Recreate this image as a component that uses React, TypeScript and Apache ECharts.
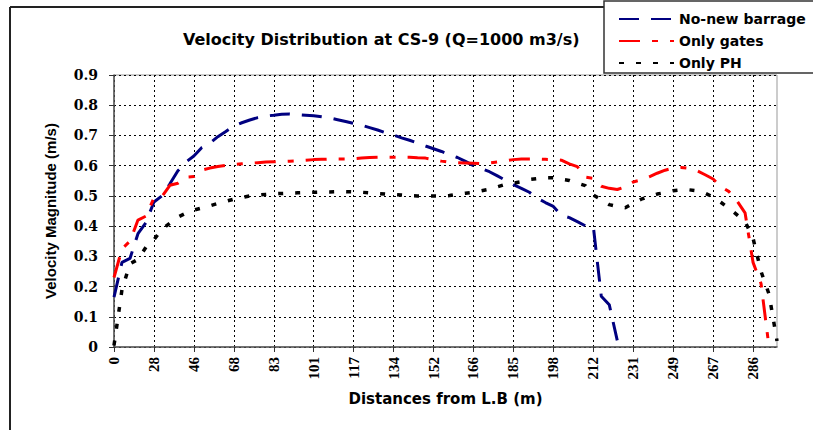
import React, { useEffect, useRef } from "react";
import * as echarts from "echarts";

// Distance from the left bank (m) of every computed station across CS-9
const distances: string[] = [
  "0", "6", "11", "17", "22", "28", "32", "35", "39", "42",
  "46", "50", "55", "59", "64", "68", "71", "74", "77", "80",
  "83", "87", "90", "94", "97", "101", "104", "107", "111", "114",
  "117", "120", "124", "127", "131", "134", "138", "141", "145", "148",
  "152", "155", "158", "160", "163", "166", "170", "174", "177", "181",
  "185", "188", "190", "193", "195", "198", "201", "204", "207", "209",
  "212", "216", "220", "223", "227", "231", "235", "238", "242", "245",
  "249", "253", "256", "260", "263", "267", "271", "275", "278", "282",
  "286", "290", "294", "297",
];

// Velocity magnitude (m/s) per scenario
const noNewBarrage: number[] = [
  0.165, 0.28, 0.293, 0.375, 0.412, 0.48, 0.5, 0.54, 0.583, 0.612,
  0.632, 0.66, 0.674, 0.696, 0.713, 0.731, 0.742, 0.751, 0.759, 0.764,
  0.767, 0.77, 0.771, 0.769, 0.767, 0.765, 0.762, 0.758, 0.752, 0.746,
  0.74, 0.734, 0.726, 0.718, 0.709, 0.701, 0.692, 0.684, 0.675, 0.665,
  0.656, 0.647, 0.637, 0.627, 0.614, 0.6, 0.59, 0.58, 0.566, 0.552,
  0.537, 0.525, 0.512, 0.492, 0.478, 0.465, 0.436, 0.428, 0.415, 0.401,
  0.4, 0.168, 0.14, 0.022,
];

const onlyGates: number[] = [
  0.23, 0.325, 0.35, 0.42, 0.433, 0.493, 0.498, 0.535, 0.542, 0.562,
  0.564, 0.585, 0.592, 0.597, 0.601, 0.604, 0.606, 0.608, 0.61, 0.612,
  0.613, 0.614, 0.615, 0.616, 0.618, 0.62, 0.621, 0.622, 0.622, 0.622,
  0.623, 0.625, 0.627, 0.628, 0.628, 0.628, 0.628, 0.628, 0.626, 0.625,
  0.62, 0.615, 0.611, 0.61, 0.609, 0.608, 0.607, 0.609, 0.612, 0.616,
  0.62, 0.622, 0.622, 0.622, 0.621, 0.62, 0.618, 0.606, 0.597, 0.562,
  0.558, 0.532, 0.525, 0.521, 0.53, 0.546, 0.553, 0.563, 0.575, 0.585,
  0.592, 0.594, 0.591, 0.583, 0.57, 0.556, 0.53, 0.514, 0.483, 0.444,
  0.28, 0.21, 0,
];

const onlyPH: number[] = [
  0.005, 0.19, 0.275, 0.29, 0.33, 0.355, 0.39, 0.41, 0.43, 0.443,
  0.453, 0.46, 0.467, 0.475, 0.482, 0.489, 0.495, 0.5, 0.503, 0.505,
  0.507, 0.508, 0.509, 0.51, 0.511, 0.512, 0.513, 0.513, 0.514, 0.514,
  0.513, 0.512, 0.51, 0.508, 0.506, 0.505, 0.503, 0.501, 0.5, 0.5,
  0.5, 0.499, 0.501, 0.506, 0.509, 0.512, 0.517, 0.522, 0.53, 0.538,
  0.542, 0.547, 0.554, 0.557, 0.56, 0.56, 0.555, 0.551, 0.542, 0.534,
  0.503, 0.487, 0.471, 0.465, 0.461, 0.476, 0.489, 0.498, 0.506, 0.511,
  0.517, 0.52, 0.52, 0.517, 0.509, 0.496, 0.478, 0.459, 0.437, 0.415,
  0.36, 0.25, 0.175, 0.02,
];

const seriesNames = ["No-new barrage", "Only gates", "Only PH"];

export default function App() {
  const ref = useRef<HTMLDivElement>(null);

  useEffect(() => {
    if (!ref.current) return;
    const chart = echarts.init(ref.current, null, { renderer: "svg" });

    const serifBold = {
      fontFamily: "DejaVu Serif",
      fontWeight: "bold" as const,
      color: "#000",
    };
    const gridDots = { color: "#000", width: 1, type: [2, 3] as number[] };

    chart.setOption({
      animation: false,
      backgroundColor: "#fff",
      title: {
        text: "Velocity Distribution at CS-9 (Q=1000 m3/s)",
        left: 183,
        top: 31,
        padding: 0,
        textStyle: {
          fontFamily: "DejaVu Sans",
          fontWeight: "bold",
          fontSize: 16,
          color: "#000",
        },
      },
      graphic: [
        {
          type: "line",
          shape: { x1: 10, y1: 7, x2: 604, y2: 7 },
          style: { stroke: "#222", lineWidth: 2 },
        },
        {
          type: "line",
          shape: { x1: 10, y1: 7, x2: 10, y2: 430 },
          style: { stroke: "#222", lineWidth: 2 },
        },
        {
          type: "rect",
          shape: { x: 604, y: 1, width: 230, height: 72 },
          style: { fill: "#fff", stroke: "#333", lineWidth: 1.5 },
        },
      ],
      legend: {
        data: seriesNames,
        orient: "vertical",
        left: 618,
        top: 12,
        padding: 0,
        itemWidth: 55,
        itemHeight: 13,
        itemGap: 8,
        selectedMode: false,
        // line-only keys: hide the marker that sits on the sample line
        itemStyle: {
          color: "transparent",
          borderColor: "transparent",
          borderWidth: 0,
          opacity: 0,
        },
        textStyle: {
          fontFamily: "DejaVu Sans",
          fontWeight: "bold",
          fontSize: 14,
          color: "#000",
        },
      },
      grid: {
        left: 114,
        right: 36,
        top: 75,
        bottom: 83,
        show: true,
        borderColor: "#999",
        borderWidth: 1,
      },
      xAxis: {
        type: "category",
        data: distances,
        boundaryGap: false,
        name: "Distances from L.B (m)",
        nameLocation: "middle",
        nameGap: 44,
        nameTextStyle: {
          fontFamily: "DejaVu Sans",
          fontWeight: "bold",
          fontSize: 15,
          color: "#000",
        },
        axisLine: { lineStyle: { color: "#555", width: 1.5 } },
        axisTick: { show: true, interval: 4, length: 5, lineStyle: { color: "#333" } },
        axisLabel: {
          interval: 4,
          rotate: 90,
          margin: 10,
          fontFamily: "Liberation Serif",
          fontWeight: "bold",
          fontSize: 15,
          color: "#000",
        },
        splitLine: { show: true, interval: 4, lineStyle: gridDots },
      },
      yAxis: {
        type: "value",
        min: 0,
        max: 0.9,
        interval: 0.1,
        name: "Velocity Magnitude (m/s)",
        nameLocation: "middle",
        nameRotate: 90,
        nameGap: 56,
        nameTextStyle: {
          fontFamily: "Liberation Sans",
          fontWeight: "bold",
          fontSize: 15,
          color: "#000",
        },
        axisLine: { show: true, lineStyle: { color: "#555", width: 1.5 } },
        axisTick: { show: true, length: 5, lineStyle: { color: "#333" } },
        axisLabel: { ...serifBold, fontSize: 14, margin: 16 },
        splitLine: { show: true, lineStyle: gridDots },
      },
      series: [
        {
          name: seriesNames[0],
          type: "line",
          data: noNewBarrage,
          symbol: "none",
          itemStyle: { color: "#000080" },
          lineStyle: { color: "#000080", width: 3, type: [20, 12] },
        },
        {
          name: seriesNames[1],
          type: "line",
          data: onlyGates,
          symbol: "none",
          itemStyle: { color: "#ff0000" },
          lineStyle: { color: "#ff0000", width: 3, type: [21, 12, 6, 12] },
        },
        {
          name: seriesNames[2],
          type: "line",
          data: onlyPH,
          symbol: "none",
          itemStyle: { color: "#000" },
          lineStyle: { color: "#000", width: 3.5, type: [5, 12] },
        },
      ],
    });

    return () => chart.dispose();
  }, []);

  return (
    <div
      ref={ref}
      style={{ position: "fixed", left: 0, top: 0, width: 813, height: 430 }}
    />
  );
}
